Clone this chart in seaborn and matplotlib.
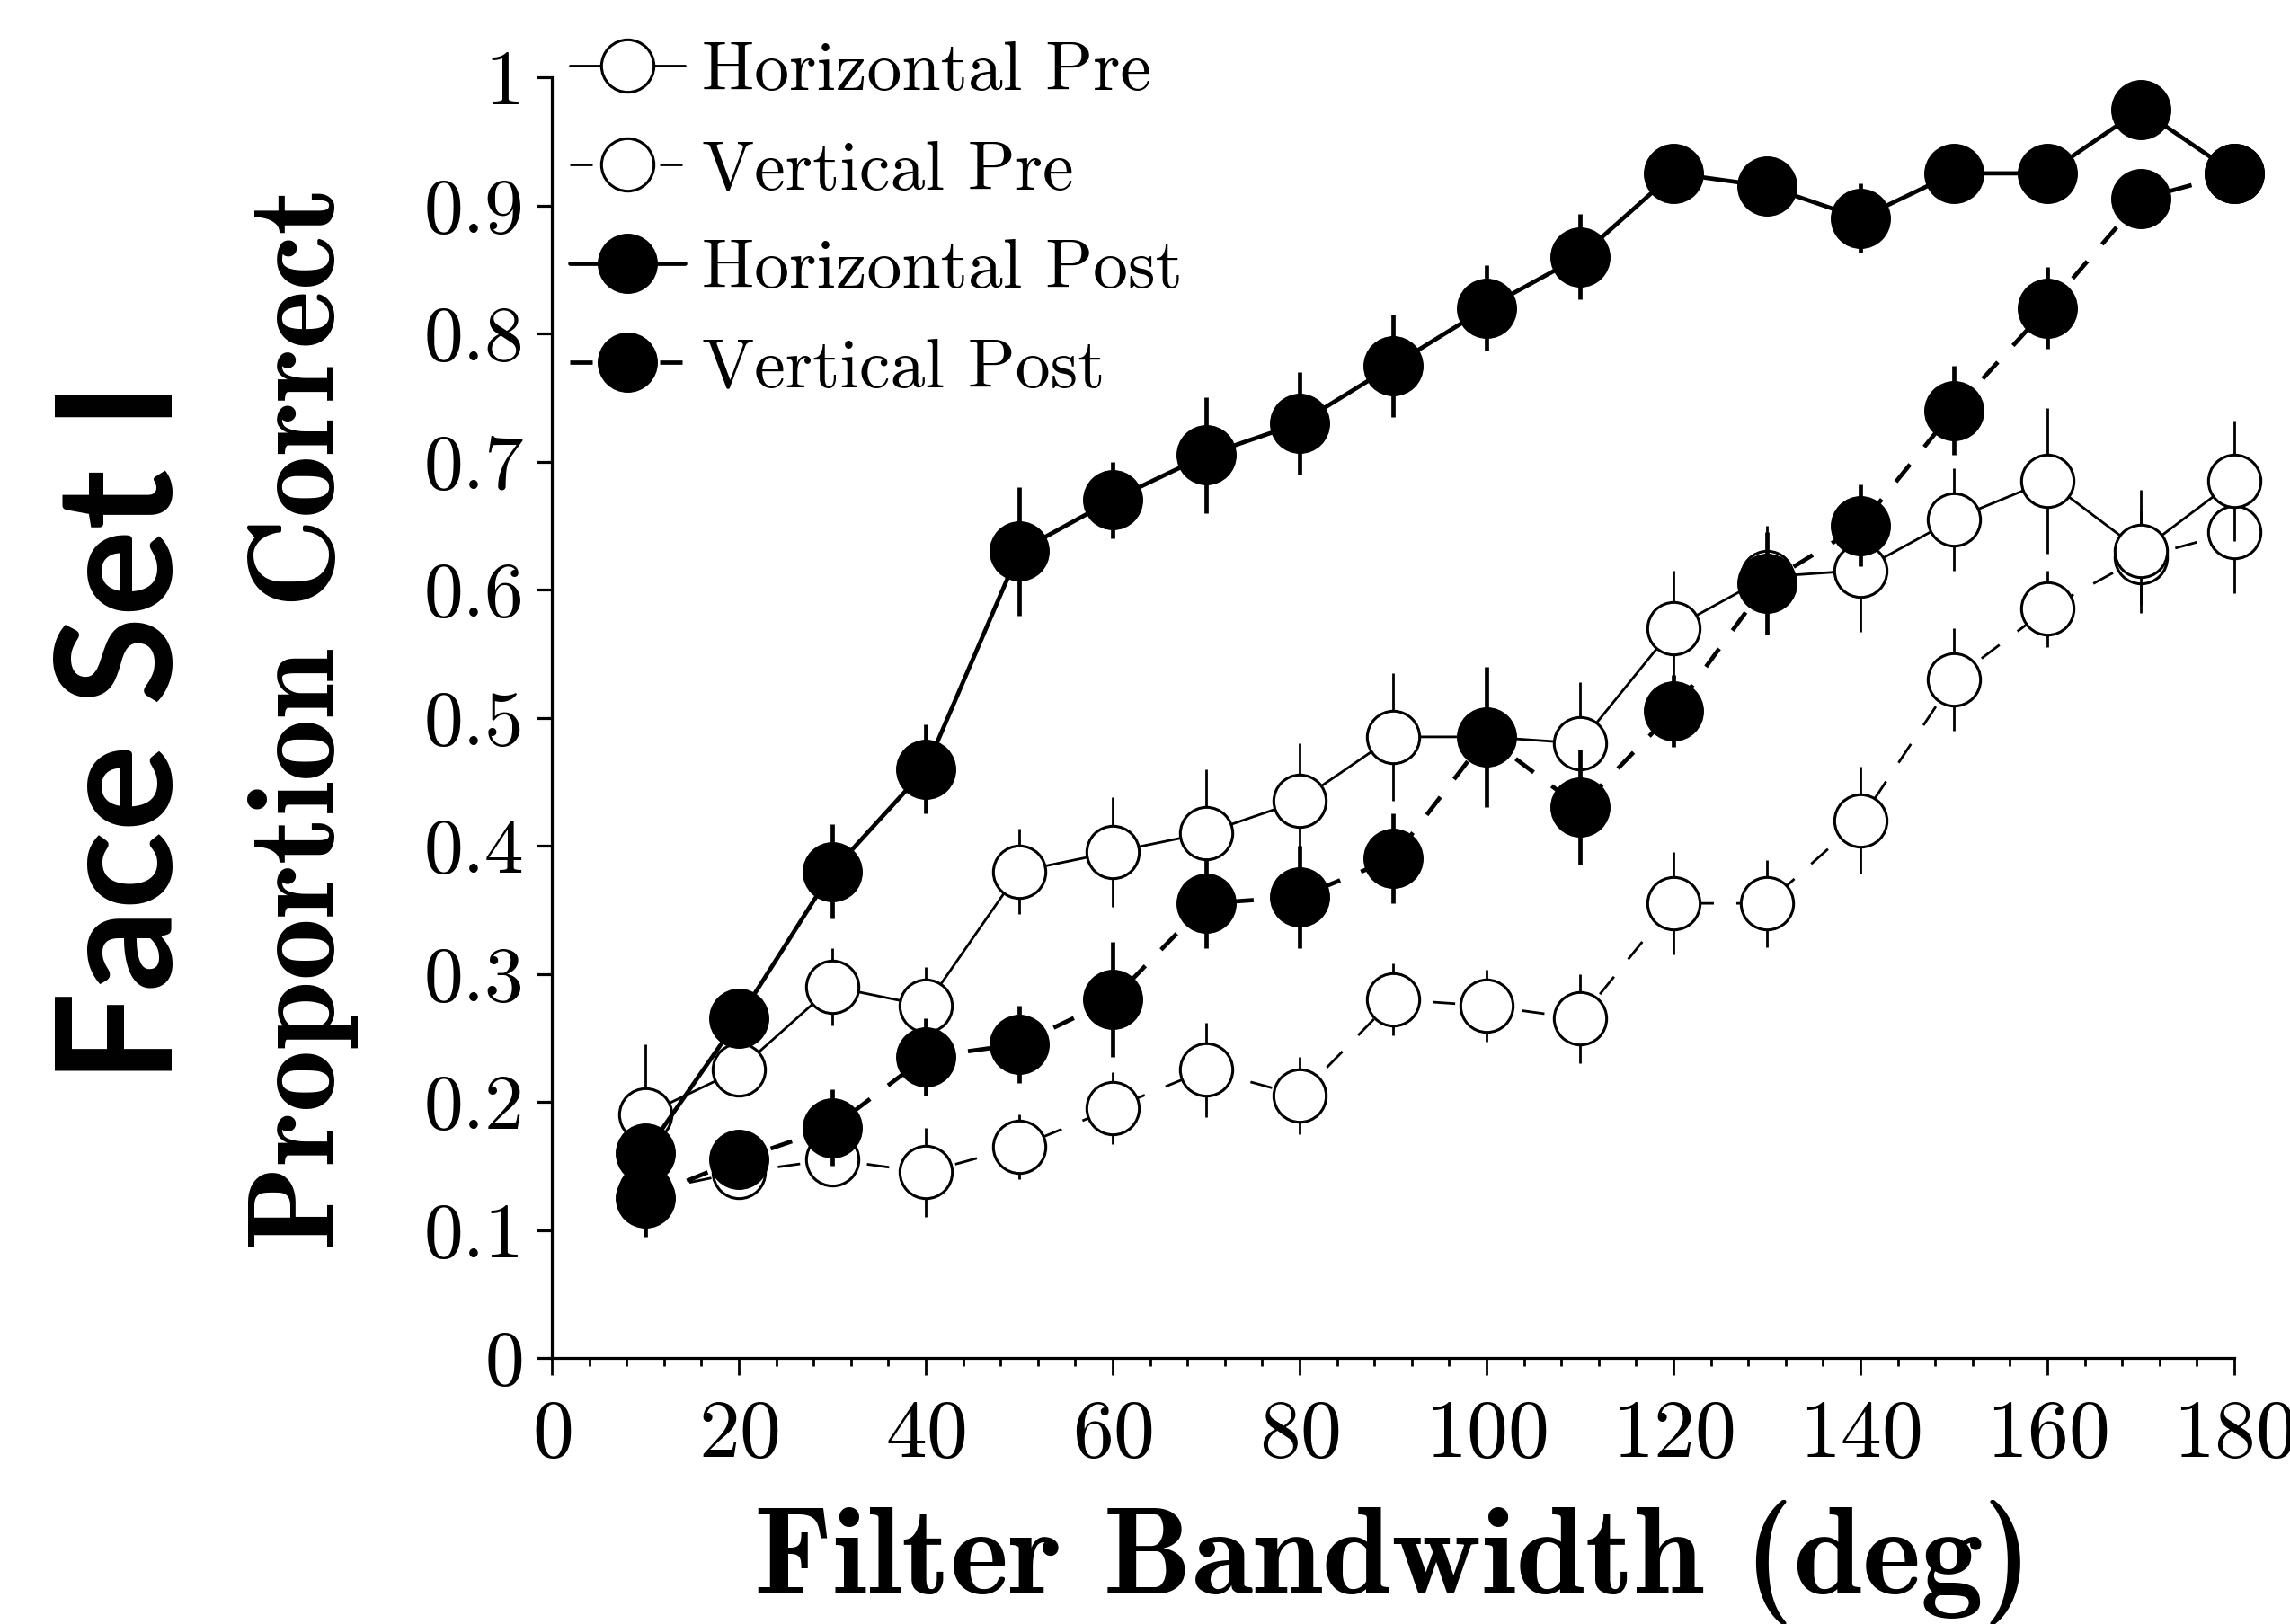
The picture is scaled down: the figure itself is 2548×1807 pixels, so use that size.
import matplotlib
matplotlib.use("Agg")
import matplotlib.pyplot as plt
import seaborn as sns
from matplotlib.ticker import MultipleLocator, FixedLocator, FixedFormatter

# data
bandwidth = [10, 20, 30, 40, 50, 60, 70, 80, 90, 100, 110, 120, 130, 140, 150, 160, 170, 180]

horiz_pre = [0.19, 0.225, 0.29, 0.275, 0.38, 0.395, 0.41, 0.435, 0.485, 0.485, 0.48, 0.57,
             0.61, 0.615, 0.655, 0.685, 0.63, 0.685]
horiz_pre_err = [0.055, 0.02, 0.03, 0.03, 0.033, 0.043, 0.05, 0.045, 0.05, 0.05, 0.048, 0.045,
                 0.04, 0.048, 0.04, 0.057, 0.048, 0.047]

vert_pre = [0.13, 0.145, 0.155, 0.145, 0.165, 0.195, 0.225, 0.205, 0.28, 0.275, 0.265, 0.355,
            0.355, 0.42, 0.53, 0.585, 0.625, 0.645]
vert_pre_err = [0.03, 0.015, 0.02, 0.035, 0.025, 0.028, 0.037, 0.03, 0.028, 0.028, 0.035, 0.04,
                0.034, 0.042, 0.04, 0.03, 0.037, 0.048]

horiz_post = [0.16, 0.265, 0.38, 0.46, 0.63, 0.67, 0.705, 0.73, 0.775, 0.82, 0.86, 0.925,
              0.915, 0.89, 0.925, 0.925, 0.975, 0.925]
horiz_post_err = [0.02, 0.02, 0.037, 0.035, 0.05, 0.03, 0.045, 0.04, 0.04, 0.033, 0.033, 0.015,
                  0.015, 0.027, 0.015, 0.015, 0.01, 0.015]

vert_post = [0.125, 0.155, 0.18, 0.235, 0.245, 0.28, 0.355, 0.36, 0.39, 0.485, 0.43, 0.505,
             0.605, 0.65, 0.74, 0.82, 0.905, 0.925]
vert_post_err = [0.03, 0.02, 0.03, 0.03, 0.03, 0.045, 0.035, 0.04, 0.035, 0.055, 0.045, 0.028,
                 0.04, 0.032, 0.035, 0.032, 0.02, 0.015]

series_names = ["Horizontal Pre", "Vertical Pre", "Horizontal Post", "Vertical Post"]
ytick_values = [0, 0.1, 0.2, 0.3, 0.4, 0.5, 0.6, 0.7, 0.8, 0.9, 1]
ytick_labels = ["0", "0.1", "0.2", "0.3", "0.4", "0.5", "0.6", "0.7", "0.8", "0.9", "1"]

sns.set_style("ticks")
plt.rcParams['font.family'] = ['cmr10', 'DejaVu Serif']
plt.rcParams['mathtext.fontset'] = 'cm'
plt.rcParams['axes.formatter.use_mathtext'] = True
plt.rcParams['lines.scale_dashes'] = False
plt.rcParams['text.color'] = 'black'
plt.rcParams['axes.labelcolor'] = 'black'

fig = plt.figure(figsize=(25.48, 18.07), dpi=100)
ax = fig.add_axes([0.241, 0.1638, 0.7347, 0.7886])

# style per series: (values, errors, face, line width, bar width, dashed, zorder)
styles = {
    "Vertical Pre": (vert_pre, vert_pre_err, "white", 2.0, 2.0, True, 2),
    "Horizontal Pre": (horiz_pre, horiz_pre_err, "white", 2.0, 2.0, False, 4),
    "Vertical Post": (vert_post, vert_post_err, "black", 3.4, 3.4, True, 6),
    "Horizontal Post": (horiz_post, horiz_post_err, "black", 3.4, 3.4, False, 8),
}

handles = {}
for name, (vals, errs, face, lw, blw, dashed, z) in styles.items():
    # error bars first, markers on top
    ax.errorbar(bandwidth, vals, yerr=errs, fmt='none', ecolor='black',
                elinewidth=blw, capsize=0, zorder=z, clip_on=False)
    ms = 46 if face == "black" else 42
    sns.lineplot(x=bandwidth, y=vals, ax=ax, color='black', linewidth=lw,
                 marker='o', markersize=ms, markerfacecolor=face,
                 markeredgecolor='black', markeredgewidth=2.2,
                 errorbar=None, zorder=z + 1, clip_on=False, legend=False)
    line = ax.lines[-1]
    if dashed:
        line.set_dashes([18, 18])
    handles[name] = line

ax.set_xlim(0, 180)
ax.set_ylim(0, 1)
ax.xaxis.set_major_locator(MultipleLocator(20))
ax.xaxis.set_minor_locator(MultipleLocator(4))
ax.yaxis.set_major_locator(FixedLocator(ytick_values))
ax.yaxis.set_major_formatter(FixedFormatter(ytick_labels))

sns.despine(ax=ax)
for sp in ["left", "bottom"]:
    ax.spines[sp].set_linewidth(2.3)
    ax.spines[sp].set_color("black")

ax.tick_params(axis='x', which='major', length=13.5, width=2, pad=20, labelsize=66, colors='black')
ax.tick_params(axis='x', which='minor', length=6.7, width=2, colors='black')
ax.tick_params(axis='y', which='major', length=12, width=2.3, pad=10, labelsize=63, colors='black')

ax.set_xlabel("Filter Bandwidth (deg)", fontfamily='cmb10', fontsize=100, color='black')
ax.xaxis.set_label_coords(0.5, -0.111)
ax.set_ylabel("Proportion Correct", fontfamily='cmb10', fontsize=100, color='black')
ax.yaxis.set_label_coords(-0.115, 0.5)

fig.text(140 / 2548, 0.549, "Face Set I", rotation=90, ha='center', va='center',
         fontsize=130, fontweight='bold', color='black', family=['Lato', 'DejaVu Sans'])

leg = ax.legend([handles[n] for n in series_names], series_names,
                loc='upper left', bbox_to_anchor=(634 / 2548, 1 - 46 / 1807),
                bbox_transform=fig.transFigure, frameon=False, fontsize=56,
                handlelength=1.65, handletextpad=0.24, labelspacing=0.52,
                borderpad=0, borderaxespad=0, numpoints=1)

fig.savefig("out.png", dpi=100, facecolor='white')
